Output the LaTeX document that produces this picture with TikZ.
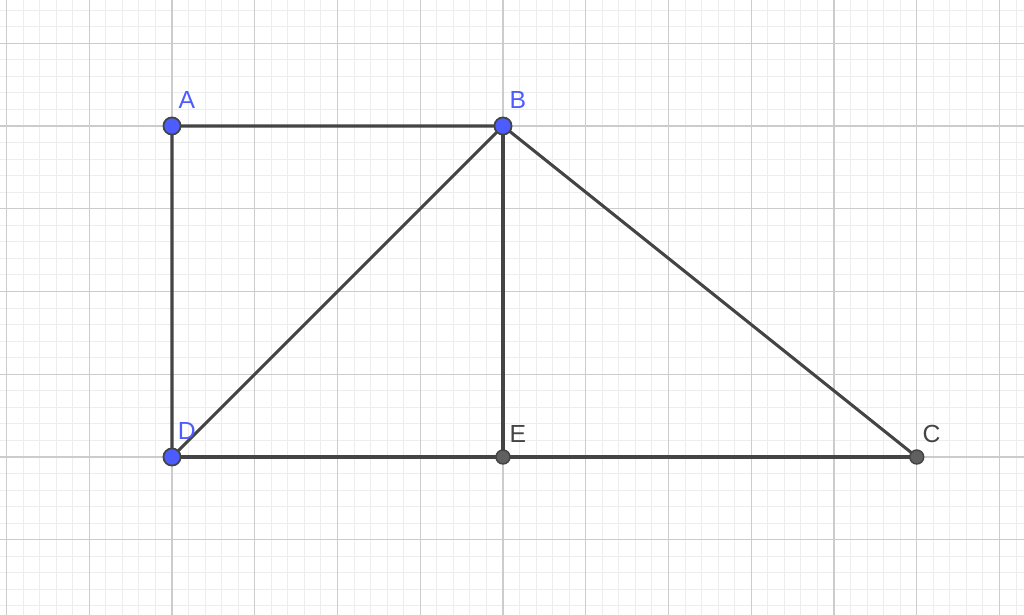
\documentclass[tikz,border=0pt]{standalone}
\usepackage{fontspec}
\setmainfont{Liberation Sans}
\definecolor{ptblue}{HTML}{4D5CFF}
\definecolor{segdark}{HTML}{444444}
\tikzset{
	freept/.style={circle, draw=segdark, fill=ptblue, line width=0.6pt, inner sep=0pt, minimum size=5.9pt},
	fixpt/.style={circle, draw=segdark, fill=segdark!85, line width=0.5pt, inner sep=0pt, minimum size=4.8pt},
	seg/.style={draw=segdark, line width=1.05pt},
	bluelbl/.style={text=ptblue, font=\fontsize{8.5}{10}\selectfont},
	darklbl/.style={text=segdark, font=\fontsize{8.5}{10}\selectfont}
}
\begin{document}
\begin{tikzpicture}

	%Frame
	\useasboundingbox (-2.0785,-1.909) rectangle (10.296,5.5227);

	%Grid
	\draw[line width=0.35pt, draw=gray!14] (-2.0785,-1.909) grid[step=0.2] (10.296,5.5227);
	\draw[line width=0.5pt, draw=gray!40] (-2.0785,-1.909) grid[step=1] (10.296,5.5227);

	%Points
	\coordinate (D) at (0,0);
	\coordinate (A) at (0,4);
	\coordinate (B) at (4,4);
	\coordinate (E) at (4,0);
	\coordinate (C) at (9,0);

	%Segments
	\draw[seg] (D) -- (A) -- (B) -- (D);
	\draw[seg] (B) -- (E);
	\draw[seg] (B) -- (C);
	\draw[seg] (D) -- (E) -- (C);

	%Dots
	\node[freept] (pA) at (A) {};
	\node[freept] (pB) at (B) {};
	\node[freept] (pD) at (D) {};
	\node[fixpt] (pE) at (E) {};
	\node[fixpt] (pC) at (C) {};

	%Labels
	\node[bluelbl] (lA) at (0.18,4.31) {A};
	\node[bluelbl] (lB) at (4.18,4.31) {B};
	\node[bluelbl] (lD) at (0.18,0.32) {D};
	\node[darklbl] (lE) at (4.18,0.28) {E};
	\node[darklbl] (lC) at (9.18,0.28) {C};

\end{tikzpicture}
\end{document}
